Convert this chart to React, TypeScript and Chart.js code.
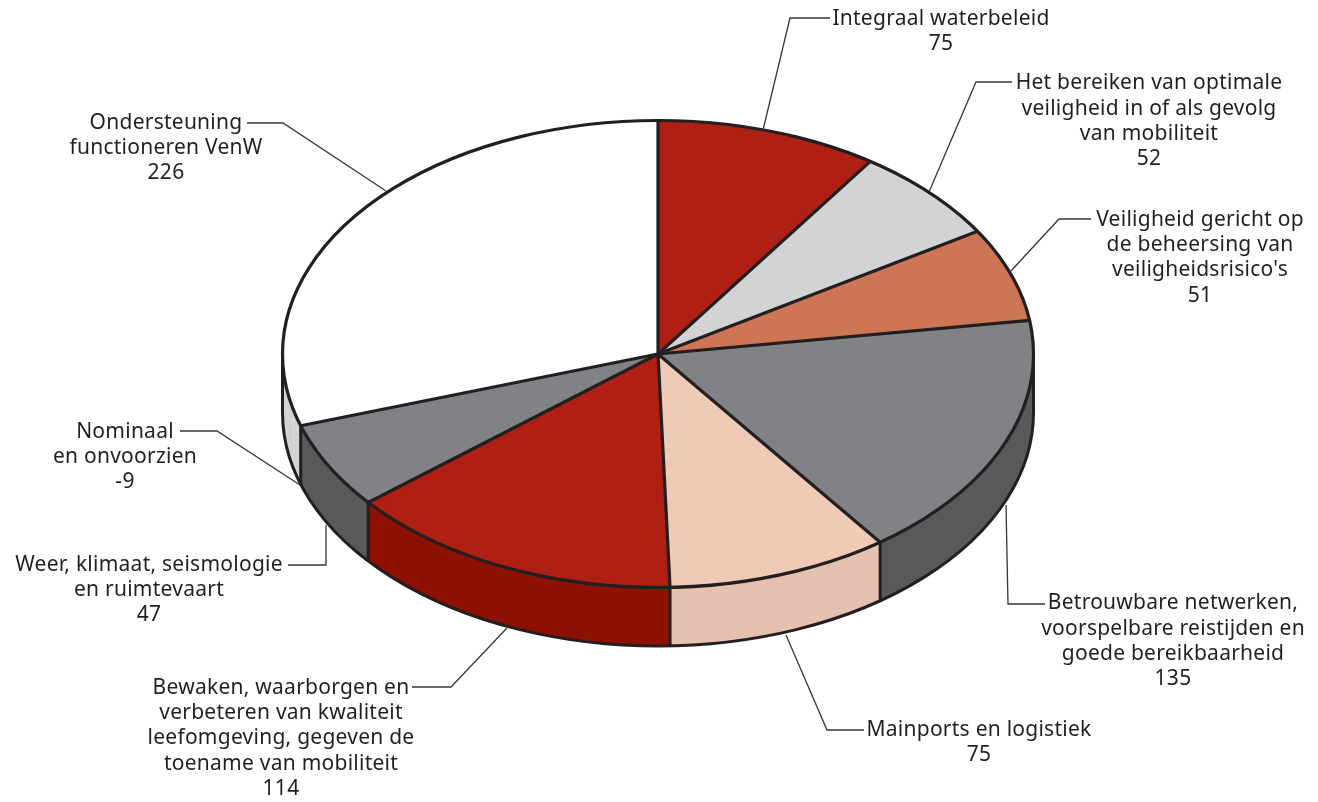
import React, { useEffect, useRef } from "react";
import { Chart, registerables } from "chart.js";

Chart.register(...registerables);

const categories = [
  ["Integraal waterbeleid"],
  ["Het bereiken van optimale", "veiligheid in of als gevolg", "van mobiliteit"],
  ["Veiligheid gericht op", "de beheersing van", "veiligheidsrisico's"],
  ["Betrouwbare netwerken,", "voorspelbare reistijden en", "goede bereikbaarheid"],
  ["Mainports en logistiek"],
  ["Bewaken, waarborgen en", "verbeteren van kwaliteit", "leefomgeving, gegeven de", "toename van mobiliteit"],
  ["Weer, klimaat, seismologie", "en ruimtevaart"],
  ["Nominaal", "en onvoorzien"],
  ["Ondersteuning", "functioneren VenW"],
];
const values = [75, 52, 51, 135, 75, 114, 47, -9, 226];
const topColors = ["#B01F14", "#D1D3D4", "#CD7555", "#808285", "#EECAB7", "#B01F14", "#808285", "#FFFFFF", "#FFFFFF"];
const wallColors = ["#8E1000", "#AEB0B2", "#A85A3E", "#58595B", "#E5C1B0", "#8E1000", "#58595B", "#D1D3D4", "#D1D3D4"];
// no dividing line is drawn at the start of these slices
const noStartEdge = [false, false, false, false, false, false, false, false, true];

// label layout: centre x, first baseline-middle y, line heights
const labelCenterX = [941, 1149, 1200, 1173, 979, 281, 149, 125, 166];
const labelLineYs = [
  [18, 43],
  [82, 108, 133, 158],
  [219, 244, 269, 295],
  [602, 628, 653, 678],
  [729, 754],
  [687, 712, 737, 763, 788],
  [564, 589, 614],
  [431, 456, 481],
  [122, 147, 172],
];
const leaderPaths = [
  [[830, 18], [790, 18], [763, 130]],
  [[1012, 82], [976, 82], [929, 192]],
  [[1091, 219], [1059, 219], [1010, 272]],
  [[1045, 604], [1008, 604], [1006, 505]],
  [[864, 730], [827, 730], [786, 635]],
  [[412, 687], [451, 687], [507, 628]],
  [[288, 565], [326, 565], [326, 525]],
  [[180, 431], [217, 431], [300, 485]],
  [[247, 123], [283, 123], [386, 191]],
];

const RADIUS = 375.5;
const SQUASH = 233.5 / 375.5;
const DEPTH = 58.5;
const INK = "#231F20";

const pie3d = {
  id: "pie3d",
  beforeDatasetsDraw(chart: any) {
    const ctx = chart.ctx;
    const arcs = chart.getDatasetMeta(0).data;
    // side walls, drawn below the top face
    arcs.forEach((arc: any, i: number) => {
      const s = Math.max(arc.startAngle, 0);
      const e = Math.min(arc.endAngle, Math.PI);
      if (e <= s) return;
      const ry = arc.outerRadius * SQUASH;
      ctx.save();
      ctx.beginPath();
      ctx.ellipse(arc.x, arc.y, arc.outerRadius, ry, 0, s, e);
      ctx.ellipse(arc.x, arc.y + DEPTH, arc.outerRadius, ry, 0, e, s, true);
      ctx.closePath();
      ctx.fillStyle = wallColors[i];
      ctx.fill();
      ctx.restore();
    });
    ctx.save();
    ctx.strokeStyle = INK;
    ctx.lineWidth = 3;
    const first = arcs[0];
    ctx.beginPath();
    ctx.moveTo(first.x + first.outerRadius, first.y);
    ctx.lineTo(first.x + first.outerRadius, first.y + DEPTH);
    ctx.ellipse(first.x, first.y + DEPTH, first.outerRadius, first.outerRadius * SQUASH, 0, 0, Math.PI);
    ctx.lineTo(first.x - first.outerRadius, first.y);
    ctx.stroke();
    arcs.forEach((arc: any, i: number) => {
      const a = arc.startAngle;
      if (a <= 0 || a >= Math.PI || noStartEdge[i]) return;
      const x = arc.x + arc.outerRadius * Math.cos(a);
      const y = arc.y + arc.outerRadius * SQUASH * Math.sin(a);
      ctx.beginPath();
      ctx.moveTo(x, y);
      ctx.lineTo(x, y + DEPTH);
      ctx.stroke();
    });
    ctx.restore();
    // the top face is drawn by Chart.js, flattened into an ellipse
    ctx.save();
    ctx.translate(first.x, first.y);
    ctx.scale(1, SQUASH);
    ctx.translate(-first.x, -first.y);
  },
  afterDatasetsDraw(chart: any) {
    const ctx = chart.ctx;
    ctx.restore();
    const arcs = chart.getDatasetMeta(0).data;
    const first = arcs[0];
    ctx.save();
    ctx.strokeStyle = INK;
    ctx.lineWidth = 3.2;
    ctx.lineJoin = "round";
    ctx.beginPath();
    ctx.ellipse(first.x, first.y, first.outerRadius, first.outerRadius * SQUASH, 0, 0, Math.PI * 2);
    ctx.stroke();
    arcs.forEach((arc: any, i: number) => {
      if (noStartEdge[i]) return;
      ctx.beginPath();
      ctx.moveTo(arc.x, arc.y);
      ctx.lineTo(
        arc.x + arc.outerRadius * Math.cos(arc.startAngle),
        arc.y + arc.outerRadius * SQUASH * Math.sin(arc.startAngle)
      );
      ctx.stroke();
    });
    ctx.restore();
  },
  afterDraw(chart: any) {
    const ctx = chart.ctx;
    ctx.save();
    ctx.strokeStyle = "#3A3637";
    ctx.lineWidth = 1.3;
    leaderPaths.forEach((path) => {
      ctx.beginPath();
      path.forEach(([x, y], j) => (j ? ctx.lineTo(x, y) : ctx.moveTo(x, y)));
      ctx.stroke();
    });
    ctx.fillStyle = INK;
    ctx.font = "21px 'Noto Sans'";
    (ctx as any).letterSpacing = "0.25px";
    ctx.textAlign = "center";
    ctx.textBaseline = "middle";
    categories.forEach((lines, i) => {
      [...lines, String(values[i])].forEach((line, j) => {
        ctx.fillText(line, labelCenterX[i], labelLineYs[i][j] + 1.5);
      });
    });
    ctx.restore();
  },
};

export default function App() {
  const ref = useRef<HTMLCanvasElement>(null);
  useEffect(() => {
    const chart = new Chart(ref.current as HTMLCanvasElement, {
      type: "pie",
      data: {
        labels: categories.map((c) => c.join(" ")),
        datasets: [
          {
            data: values,
            backgroundColor: topColors,
            borderWidth: 0,
            clip: false,
          } as any,
        ],
      },
      options: {
        responsive: false,
        animation: false,
        radius: RADIUS,
        layout: { padding: { right: 2, bottom: 94 } },
        plugins: { legend: { display: false }, tooltip: { enabled: false } },
        events: [],
      } as any,
      plugins: [pie3d],
    });
    return () => chart.destroy();
  }, []);
  return (
    <canvas
      ref={ref}
      width={1318}
      height={802}
      style={{ position: "absolute", left: 0, top: 0, display: "block", background: "#fff" }}
    />
  );
}
